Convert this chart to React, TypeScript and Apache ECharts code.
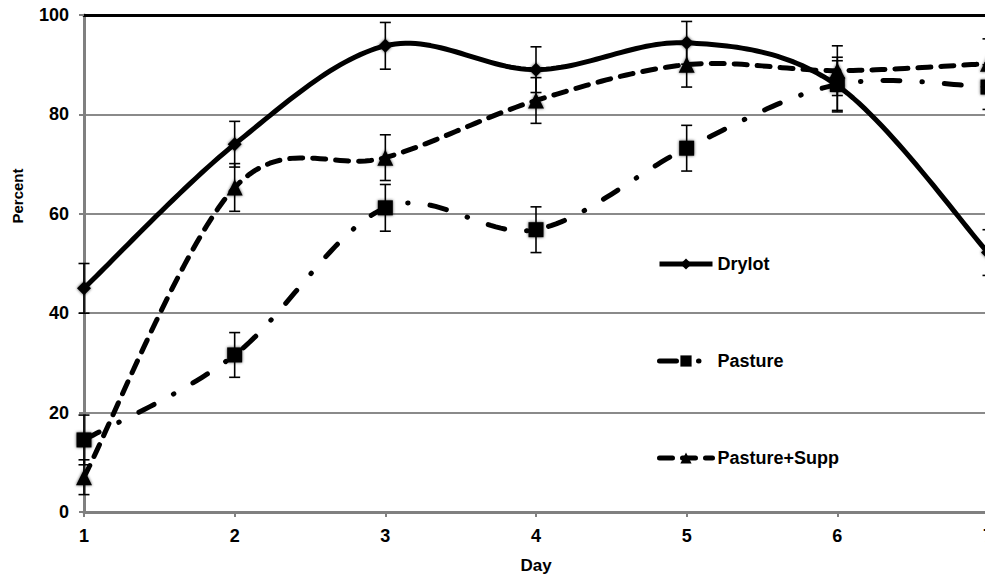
import React, { useEffect, useRef } from "react";
import * as echarts from "echarts";

const days = [1, 2, 3, 4, 5, 6, 7];
const drylot = [45, 74, 93.8, 89, 94.4, 85.8, 52.2];
const drylotErr = [5, 4.6, 4.7, 4.6, 4.3, 5, 4.6];
const pasture = [14.5, 31.6, 61.2, 56.8, 73.2, 86, 85.5];
const pastureErr = [5, 4.5, 4.7, 4.6, 4.6, 5.5, 4.5];
const pastureSupp = [7, 65.3, 71.3, 82.8, 90, 88.8, 90.2];
const pastureSuppErr = [3.5, 4.8, 4.6, 4.6, 4.5, 5, 5];
const yTicks = [0, 20, 40, 60, 80, 100];

const FONT = "Liberation Sans, Arial, sans-serif";

const DASH_SUPP = [13, 10];
const DASH_PAST = [17, 22, 0.5, 22];

function pairs(vals: number[]) {
  return days.map((d, i) => [d, vals[i]]);
}
function errs(vals: number[], e: number[]) {
  return days.map((d, i) => [d, vals[i] - e[i], vals[i] + e[i]]);
}

function errorSeries(data: number[][]) {
  return {
    type: "custom",
    silent: true,
    z: 6,
    clip: false,
    data,
    renderItem: (params: any, api: any) => {
      const x = api.value(0);
      const lo = api.coord([x, api.value(1)]);
      const hi = api.coord([x, api.value(2)]);
      const w = 5.5;
      const st = { stroke: "#000", lineWidth: 1.6 };
      return {
        type: "group",
        children: [
          { type: "line", shape: { x1: lo[0], y1: lo[1], x2: hi[0], y2: hi[1] }, style: st },
          { type: "line", shape: { x1: lo[0] - w, y1: lo[1], x2: lo[0] + w, y2: lo[1] }, style: st },
          { type: "line", shape: { x1: hi[0] - w, y1: hi[1], x2: hi[0] + w, y2: hi[1] }, style: st },
        ],
      };
    },
  };
}

// Excel-like smoothed curve (Catmull-Rom style Bezier) through the library's coordinates
function curveSeries(vals: number[], dash: number[] | null) {
  return {
    type: "custom",
    silent: true,
    z: 3,
    clip: false,
    data: [[days[0], vals[0]]],
    renderItem: (params: any, api: any) => {
      const pts = days.map((d, i) => api.coord([d, vals[i]]));
      const t = 1 / 6;
      const out: number[][] = [pts[0]];
      for (let i = 0; i < pts.length - 1; i++) {
        const p0 = pts[i - 1] || pts[i];
        const p1 = pts[i];
        const p2 = pts[i + 1];
        const p3 = pts[i + 2] || pts[i + 1];
        const c1 = [p1[0] + (p2[0] - p0[0]) * t, p1[1] + (p2[1] - p0[1]) * t];
        const c2 = [p2[0] - (p3[0] - p1[0]) * t, p2[1] - (p3[1] - p1[1]) * t];
        const N = 30;
        for (let k = 1; k <= N; k++) {
          const s = k / N;
          const a = (1 - s) * (1 - s) * (1 - s);
          const b = 3 * (1 - s) * (1 - s) * s;
          const c = 3 * (1 - s) * s * s;
          const d = s * s * s;
          out.push([
            a * p1[0] + b * c1[0] + c * c2[0] + d * p2[0],
            a * p1[1] + b * c1[1] + c * c2[1] + d * p2[1],
          ]);
        }
      }
      return {
        type: "polyline",
        shape: { points: out },
        style: {
          fill: "none",
          stroke: "#000",
          lineWidth: 5,
          lineDash: dash || undefined,
          lineCap: "round",
          lineJoin: "round",
        },
      };
    },
  };
}

export default function App() {
  const ref = useRef<HTMLDivElement>(null);
  useEffect(() => {
    if (!ref.current) return;
    const chart = echarts.init(ref.current, undefined, { renderer: "svg" });
    const markerStyle = {
      color: "#000",
      shadowBlur: 3,
      shadowColor: "rgba(0,0,0,0.7)",
    };
    chart.setOption({
      animation: false,
      backgroundColor: "#fff",
      textStyle: { fontFamily: FONT },
      grid: { left: 84, right: 12, top: 15, bottom: 63, outerBoundsMode: "none", containLabel: false },
      legend: {
        data: [
          { name: "Drylot", lineStyle: { opacity: 1, width: 5, type: "solid" } },
          { name: "Pasture", lineStyle: { opacity: 1, width: 5, type: DASH_PAST, cap: "round" } },
          { name: "Pasture+Supp", lineStyle: { opacity: 1, width: 5, type: DASH_SUPP, cap: "round" } },
        ],
        orient: "vertical",
        left: 652,
        top: 249,
        itemWidth: 53,
        itemHeight: 14,
        itemGap: 77,
        textStyle: { fontFamily: FONT, fontWeight: "bold", fontSize: 18, color: "#000", lineHeight: 20 },
      },
      graphic: [
        {
          type: "text",
          x: 17,
          y: 196,
          rotation: Math.PI / 2,
          style: {
            text: "Percent",
            font: "bold 15px " + FONT,
            fill: "#000",
            textAlign: "center",
            textVerticalAlign: "middle",
          },
        },
      ],
      xAxis: [
        {
          type: "value",
          min: 1,
          max: 7,
          interval: 1,
          name: "Day",
          nameLocation: "middle",
          nameGap: 45,
          nameTextStyle: { fontFamily: FONT, fontWeight: "bold", fontSize: 17, color: "#000" },
          axisLine: { show: true, lineStyle: { color: "#808080", width: 3 } },
          axisTick: { show: true, length: 5, lineStyle: { color: "#808080", width: 2 } },
          axisLabel: { margin: 15, fontFamily: FONT, fontWeight: "bold", fontSize: 18, color: "#000" },
          splitLine: { show: false },
        },
        {
          type: "value",
          position: "top",
          min: 1,
          max: 7,
          interval: 1,
          axisLine: { show: true, lineStyle: { color: "#000", width: 3 } },
          axisTick: { show: false },
          axisLabel: { show: false },
          splitLine: { show: false },
        },
      ],
      yAxis: {
        type: "value",
        min: yTicks[0],
        max: yTicks[yTicks.length - 1],
        interval: 20,
        axisLine: { show: true, lineStyle: { color: "#808080", width: 3 } },
        axisTick: { show: true, length: 5, lineStyle: { color: "#808080", width: 2 } },
        axisLabel: { margin: 15, fontFamily: FONT, fontWeight: "bold", fontSize: 18, color: "#000" },
        splitLine: { show: true, lineStyle: { color: "#8a8a8a", width: 2 } },
      },
      series: [
        curveSeries(drylot, null),
        curveSeries(pasture, DASH_PAST),
        curveSeries(pastureSupp, DASH_SUPP),
        {
          name: "Drylot",
          type: "line",
          data: pairs(drylot),
          symbol: "diamond",
          symbolSize: 14,
          showAllSymbol: true,
          clip: false,
          z: 5,
          lineStyle: { color: "#000", width: 5, opacity: 0 },
          itemStyle: markerStyle,
        },
        {
          name: "Pasture",
          type: "line",
          data: pairs(pasture),
          symbol: "rect",
          symbolSize: 15,
          clip: false,
          z: 5,
          lineStyle: { color: "#000", width: 5, type: DASH_PAST, opacity: 0 },
          itemStyle: markerStyle,
        },
        {
          name: "Pasture+Supp",
          type: "line",
          data: pairs(pastureSupp),
          symbol: "triangle",
          symbolSize: 16,
          clip: false,
          z: 5,
          lineStyle: { color: "#000", width: 5, type: DASH_SUPP, opacity: 0 },
          itemStyle: markerStyle,
        },
        errorSeries(errs(drylot, drylotErr)),
        errorSeries(errs(pasture, pastureErr)),
        errorSeries(errs(pastureSupp, pastureSuppErr)),
      ],
    });
    return () => chart.dispose();
  }, []);
  return (
    <div
      style={{
        position: "fixed",
        left: 0,
        top: 0,
        width: 985,
        height: 575,
        overflow: "hidden",
        background: "#fff",
      }}
    >
      <div ref={ref} style={{ width: 1000, height: 575 }} />
    </div>
  );
}
